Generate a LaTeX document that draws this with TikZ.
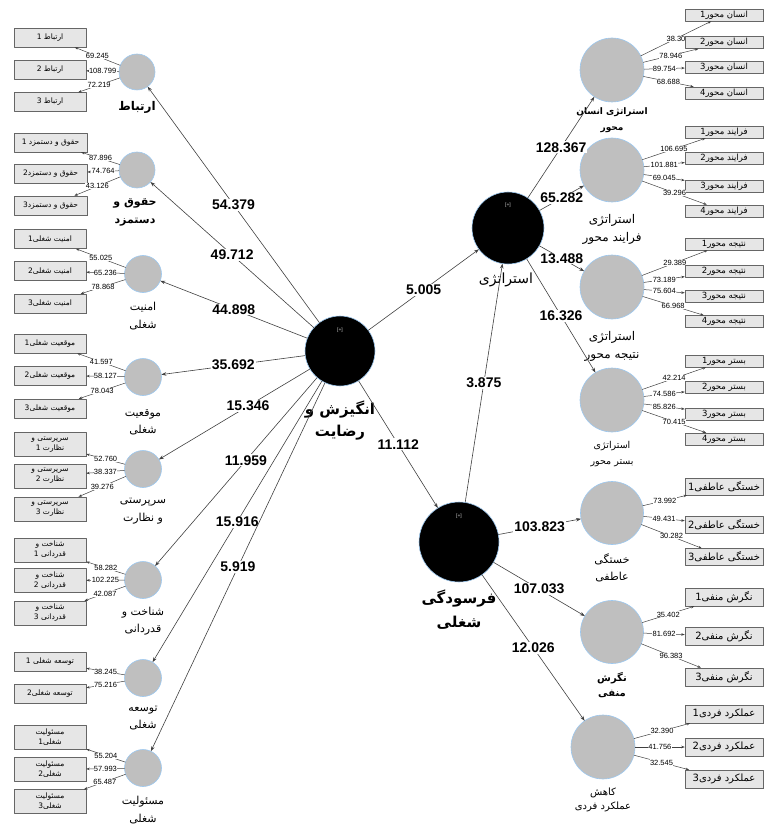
\documentclass[tikz,border=0pt]{standalone}
\usepackage{fontspec}
\setmainfont{Liberation Sans}
\newfontfamily\fafont[Script=Arabic]{DejaVu Sans}
\TeXXeTstate=1
\newcommand\fatxt[1]{{\fafont\beginR #1\endR}}
\usetikzlibrary{arrows.meta,shadows}
\definecolor{rim}{HTML}{9CC8F0}
\definecolor{boxfill}{HTML}{E6E6E6}
\definecolor{wire}{HTML}{404040}
\tikzset{
  latent/.style={circle, fill=black, draw=rim, line width=0.6pt, inner sep=0pt, outer sep=0pt},
  manif/.style={circle, fill=gray!50, draw=rim, line width=0.6pt, inner sep=0pt, outer sep=0pt},
  indbox/.style={rectangle, fill=boxfill, draw=gray!80!black, line width=0.5pt, inner sep=0pt, align=center,
    drop shadow={shadow xshift=0.9pt, shadow yshift=-0.9pt, fill=black!65, opacity=1}},
  lbox/.style={indbox, minimum width=72pt, minimum height=19pt, font=\fontsize{7.5}{10}\selectfont},
  lbox2/.style={lbox, minimum height=24pt},
  rbox/.style={indbox, minimum width=78pt, minimum height=12pt, font=\fontsize{8.5}{9}\selectfont},
  rbox2/.style={rbox, minimum height=17pt, font=\fontsize{10}{11}\selectfont},
  pth/.style={draw=wire, line width=0.6pt, -{Stealth[length=5pt,width=3.5pt]}},
  ldline/.style={draw=wire, line width=0.5pt, -{Stealth[length=3.5pt,width=2.5pt]}},
  coef/.style={fill=white, inner sep=1pt, font=\fontsize{14}{16}\selectfont\bfseries},
  load/.style={fill=white, inner sep=0.4pt, font=\fontsize{7.5}{8}\selectfont},
  lbl/.style={inner sep=0pt, align=center, font=\fontsize{11}{17.5}\selectfont},
  plus/.style={inner sep=0pt, text=gray!40, font=\fontsize{5}{5}\selectfont}
}
\begin{document}
\begin{tikzpicture}[x=1pt, y=-1pt, line join=round]
\useasboundingbox (0,0) rectangle (764,826);

% main constructs
\node[latent, minimum size=70pt] (mot) at (340,351) {};
\node[latent, minimum size=72pt] (str) at (508,228) {};
\node[latent, minimum size=80pt] (brn) at (459,542) {};
\node[plus] (motp) at (340,330) {[+]};
\node[plus] (strp) at (508,205) {[+]};
\node[plus] (brnp) at (459,516) {[+]};
\node[lbl, font=\fontsize{15}{22}\selectfont\bfseries] (mott) at (340,421) {\fatxt{انگیزش و}\\\fatxt{رضایت}};
\node[lbl, font=\fontsize{14}{18}\selectfont] (strt) at (506,280) {\fatxt{استراتژی}};
\node[lbl, font=\fontsize{15}{24}\selectfont\bfseries] (brnt) at (459,610) {\fatxt{فرسودگی}\\\fatxt{شغلی}};

% left constructs
\node[manif, minimum size=36pt] (lA) at (137,72) {};
\node[manif, minimum size=36pt] (lB) at (137,170) {};
\node[manif, minimum size=37pt] (lC) at (143,274) {};
\node[manif, minimum size=37pt] (lD) at (143,377) {};
\node[manif, minimum size=37pt] (lE) at (143,469) {};
\node[manif, minimum size=37pt] (lF) at (143,580) {};
\node[manif, minimum size=37pt] (lG) at (143,678) {};
\node[manif, minimum size=37pt] (lH) at (143,768) {};
\node[lbl, font=\fontsize{12}{17}\selectfont\bfseries] (lAt) at (137,107) {\fatxt{ارتباط}};
\node[lbl, font=\fontsize{11}{18}\selectfont\bfseries] (lBt) at (135,212) {\fatxt{حقوق و}\\\fatxt{دستمزد}};
\node[lbl] (lCt) at (143,316) {\fatxt{امنیت}\\\fatxt{شغلی}};
\node[lbl] (lDt) at (143,422) {\fatxt{موقعیت}\\\fatxt{شغلی}};
\node[lbl] (lEt) at (143,511) {\fatxt{سرپرستی}\\\fatxt{و نظارت}};
\node[lbl] (lFt) at (143,621) {\fatxt{شناخت و}\\\fatxt{قدردانی}};
\node[lbl] (lGt) at (143,718) {\fatxt{توسعه}\\\fatxt{شغلی}};
\node[lbl] (lHt) at (143,810) {\fatxt{مسئولیت}\\\fatxt{شغلی}};

% right constructs
\node[manif, minimum size=64pt] (rA) at (612,70) {};
\node[manif, minimum size=64pt] (rB) at (612,170) {};
\node[manif, minimum size=64pt] (rC) at (612,287) {};
\node[manif, minimum size=64pt] (rD) at (612,400) {};
\node[manif, minimum size=63pt] (rE) at (612,513) {};
\node[manif, minimum size=63pt] (rF) at (612,632) {};
\node[manif, minimum size=64pt] (rG) at (603,747) {};
\node[lbl, font=\fontsize{9}{16}\selectfont\bfseries] (rAt) at (612,120) {\fatxt{استراتژی انسان}\\\fatxt{محور}};
\node[lbl, font=\fontsize{12}{18}\selectfont] (rBt) at (612,229) {\fatxt{استراتژی}\\\fatxt{فرایند محور}};
\node[lbl, font=\fontsize{12}{18}\selectfont] (rCt) at (612,346) {\fatxt{استراتژی}\\\fatxt{نتیجه محور}};
\node[lbl, font=\fontsize{9.5}{16}\selectfont] (rDt) at (612,454) {\fatxt{استراتژی}\\\fatxt{بستر محور}};
\node[lbl, font=\fontsize{11}{17}\selectfont] (rEt) at (612,568) {\fatxt{خستگی}\\\fatxt{عاطفی}};
\node[lbl, font=\fontsize{10}{15}\selectfont\bfseries] (rFt) at (612,685) {\fatxt{نگرش}\\\fatxt{منفی}};
\node[lbl, font=\fontsize{10}{14}\selectfont] (rGt) at (603,800) {\fatxt{کاهش}\\\fatxt{عملکرد فردی}};

% structural paths
\draw[pth] (mot) -- node[coef, midway]{54.379} (lA);
\draw[pth] (mot) -- node[coef, midway]{49.712} (lB);
\draw[pth] (mot) -- node[coef, midway]{44.898} (lC);
\draw[pth] (mot) -- node[coef, midway]{35.692} (lD);
\draw[pth] (mot) -- node[coef, pos=0.41]{15.346} (lE);
\draw[pth] (mot) -- node[coef, pos=0.44]{11.959} (lF);
\draw[pth] (mot) -- node[coef, midway]{15.916} (lG);
\draw[pth] (mot) -- node[coef, midway]{5.919} (lH);
\draw[pth] (mot) -- node[coef, midway]{5.005} (str);
\draw[pth] (mot) -- node[coef, midway]{11.112} (brn);
\draw[pth] (brn) -- node[coef, midway]{3.875} (str);
\draw[pth] (str) -- node[coef, midway]{128.367} (rA);
\draw[pth] (str) -- node[coef, midway]{65.282} (rB);
\draw[pth] (str) -- node[coef, midway]{13.488} (rC);
\draw[pth] (str) -- node[coef, midway]{16.326} (rD);
\draw[pth] (brn) -- node[coef, midway]{103.823} (rE);
\draw[pth] (brn) -- node[coef, midway]{107.033} (rF);
\draw[pth] (brn) -- node[coef, midway]{12.026} (rG);

% left indicators
\foreach \i/\y/\t/\v in {1/37.5/{ارتباط 1}/69.245, 2/70/{ارتباط 2}/108.799, 3/102/{ارتباط 3}/72.219}{
  \node[lbox] (lA\i) at (50,\y) {\fatxt{\t}};
  \draw[ldline] (lA) -- node[load, midway]{\v} (lA\i);
}
\foreach \i/\y/\t/\v in {1/142.5/{حقوق و دستمزد 1}/87.896, 2/173.5/{حقوق و دستمزد2}/74.764, 3/205.5/{حقوق و دستمزد3}/43.126}{
  \node[lbox, minimum width=73pt] (lB\i) at (50.5,\y) {\fatxt{\t}};
  \draw[ldline] (lB) -- node[load, midway]{\v} (lB\i);
}
\foreach \i/\y/\t/\v in {1/239/{امنیت شغلی1}/55.025, 2/271/{امنیت شغلی2}/65.236, 3/303.5/{امنیت شغلی3}/78.868}{
  \node[lbox] (lC\i) at (50,\y) {\fatxt{\t}};
  \draw[ldline] (lC) -- node[load, midway]{\v} (lC\i);
}
\foreach \i/\y/\t/\v in {1/343.5/{موقعیت شغلی1}/41.597, 2/375.5/{موقعیت شغلی2}/58.127, 3/408.5/{موقعیت شغلی3}/78.043}{
  \node[lbox] (lD\i) at (50,\y) {\fatxt{\t}};
  \draw[ldline] (lD) -- node[load, midway]{\v} (lD\i);
}
\foreach \i/\y/\v in {1/444.5/52.760, 2/476/38.337, 3/509/39.276}{
  \node[lbox2] (lE\i) at (50,\y) {\fatxt{سرپرستی و}\\\fatxt{نظارت \i}};
  \draw[ldline] (lE) -- node[load, midway]{\v} (lE\i);
}
\foreach \i/\y/\v in {1/550/58.282, 2/580.5/102.225, 3/613/42.087}{
  \node[lbox2] (lF\i) at (50,\y) {\fatxt{شناخت و}\\\fatxt{قدردانی \i}};
  \draw[ldline] (lF) -- node[load, midway]{\v} (lF\i);
}
\foreach \i/\y/\t/\v in {1/662/{توسعه شغلی 1}/38.245, 2/694/{توسعه شغلی2}/75.216}{
  \node[lbox] (lG\i) at (50,\y) {\fatxt{\t}};
  \draw[ldline] (lG) -- node[load, midway]{\v} (lG\i);
}
\foreach \i/\y/\v in {1/737/55.204, 2/769.5/57.993, 3/801.5/65.487}{
  \node[lbox2] (lH\i) at (50,\y) {\fatxt{مسئولیت}\\\fatxt{شغلی\i}};
  \draw[ldline] (lH) -- node[load, midway]{\v} (lH\i);
}

% right indicators
\foreach \i/\y/\v in {1/15/38.30, 2/42.5/78.946, 3/67/89.754, 4/93/68.688}{
  \node[rbox] (rA\i) at (724,\y) {\fatxt{انسان محور\i}};
  \draw[ldline] (rA) -- node[load, midway]{\v} (rA\i);
}
\foreach \i/\y/\v in {1/132/106.695, 2/158.5/101.881, 3/186/69.045, 4/211/39.296}{
  \node[rbox] (rB\i) at (724,\y) {\fatxt{فرایند محور\i}};
  \draw[ldline] (rB) -- node[load, midway]{\v} (rB\i);
}
\foreach \i/\y/\v in {1/244/29.389, 2/271/73.189, 3/296/75.604, 4/321.5/66.968}{
  \node[rbox] (rC\i) at (724,\y) {\fatxt{نتیجه محور\i}};
  \draw[ldline] (rC) -- node[load, midway]{\v} (rC\i);
}
\foreach \i/\y/\v in {1/361/42.214, 2/387.5/74.586, 3/414/85.826, 4/439/70.415}{
  \node[rbox] (rD\i) at (724,\y) {\fatxt{بستر محور\i}};
  \draw[ldline] (rD) -- node[load, midway]{\v} (rD\i);
}
\foreach \i/\y/\v in {1/486.5/73.992, 2/525/49.431, 3/557/30.282}{
  \node[rbox2] (rE\i) at (724,\y) {\fatxt{خستگی عاطفی\i}};
  \draw[ldline] (rE) -- node[load, midway]{\v} (rE\i);
}
\foreach \i/\y/\v in {1/597/35.402, 2/636/81.692, 3/677/96.383}{
  \node[rbox2, minimum height=18pt] (rF\i) at (724,\y) {\fatxt{نگرش منفی\i}};
  \draw[ldline] (rF) -- node[load, midway]{\v} (rF\i);
}
\foreach \i/\y/\v in {1/714/32.390, 2/747/41.756, 3/779/32.545}{
  \node[rbox2, minimum height=18pt] (rG\i) at (724,\y) {\fatxt{عملکرد فردی\i}};
  \draw[ldline] (rG) -- node[load, midway]{\v} (rG\i);
}
\end{tikzpicture}
\end{document}
